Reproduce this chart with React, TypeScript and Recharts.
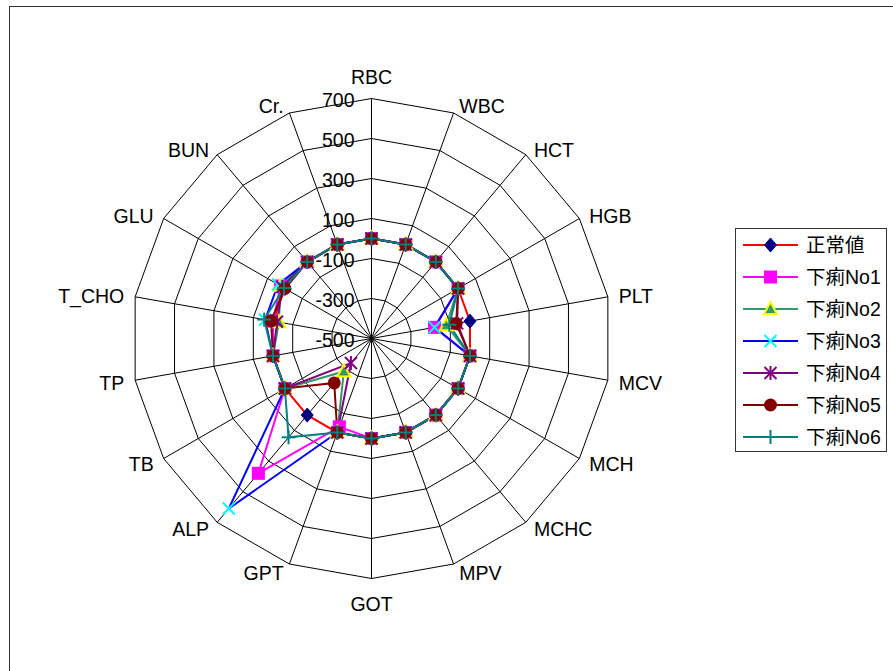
import React from "react";
import {
  RadarChart,
  Radar,
  PolarGrid,
  PolarAngleAxis,
  PolarRadiusAxis,
  Legend,
} from "recharts";

// test items around the radar, clockwise from the top
const categories = [
  "RBC", "WBC", "HCT", "HGB", "PLT", "MCV", "MCH", "MCHC", "MPV",
  "GOT", "GPT", "ALP", "TB", "TP", "T_CHO", "GLU", "BUN", "Cr.",
];

const seriesNames = ["正常値", "下痢No1", "下痢No2", "下痢No3", "下痢No4", "下痢No5", "下痢No6"];

const normalValues = [0, 0, 0, 0, 0, 0, 0, 0, 0, 0, 0, 0, 0, 0, 0, 0, 0, 0];
const no1Values = [0, 0, 0, 0, -180, 0, 0, 0, 0, 0, -30, 380, 0, 0, 0, 25, 0, 0];
const no2Values = [0, 0, 0, 0, -120, 0, 0, 0, 0, 0, 0, -285, 0, 0, -30, 25, 0, 0];
const no3Values = [0, 0, 0, 0, -180, 0, 0, 0, 0, 0, 0, 610, 0, 0, 40, 40, 0, 0];
const no4Values = [0, 0, 0, 0, -65, 0, 0, 0, 0, 0, 0, -340, 0, 0, -20, 15, 0, 0];
const no5Values = [0, 0, 0, 0, -70, 0, 0, 0, 0, 0, 0, -210, 0, 0, 10, 0, 0, 0];
const no6Values = [0, 0, 0, 0, -105, 0, 0, 0, 0, 0, 0, 145, 0, 0, 45, 5, 0, 0];

const radiusTicks = [-500, -300, -100, 100, 300, 500, 700];

const allValues = [normalValues, no1Values, no2Values, no3Values, no4Values, no5Values, no6Values];

const data = categories.map((name, i) => {
  const row: Record<string, any> = { name };
  seriesNames.forEach((s, k) => {
    row[s] = allValues[k][i];
  });
  return row;
});

// line colour, marker shape, marker colours
const styles = [
  { stroke: "#FF0000", shape: "diamond", fill: "#000080", edge: "#000080" },
  { stroke: "#FF00FF", shape: "square", fill: "#FF00FF", edge: "#FF00FF" },
  { stroke: "#339966", shape: "triangle", fill: "#339966", edge: "#FFFF00" },
  { stroke: "#0000FF", shape: "x", fill: "none", edge: "#00FFFF" },
  { stroke: "#800080", shape: "star", fill: "none", edge: "#800080" },
  { stroke: "#800000", shape: "circle", fill: "#800000", edge: "#800000" },
  { stroke: "#008080", shape: "plus", fill: "none", edge: "#008080" },
];

const CX = 371.5;
const CY = 338.5;
const FONT = "'Liberation Sans', Arial, 'Noto Sans CJK JP', sans-serif";

function marker(shape: string, x: number, y: number, fill: string, edge: string, key?: string) {
  switch (shape) {
    case "diamond":
      return (
        <polygon key={key} points={`${x},${y - 7} ${x + 6},${y} ${x},${y + 7} ${x - 6},${y}`} fill={fill} stroke={edge} />
      );
    case "square":
      return <rect key={key} x={x - 6.5} y={y - 6.5} width={13} height={13} fill={fill} />;
    case "triangle":
      return (
        <polygon key={key} points={`${x},${y - 7} ${x + 6.5},${y + 5} ${x - 6.5},${y + 5}`} fill={fill} stroke={edge} strokeWidth={2} />
      );
    case "x":
      return (
        <g key={key} stroke={edge} strokeWidth={2}>
          <line x1={x - 6} y1={y - 6} x2={x + 6} y2={y + 6} />
          <line x1={x - 6} y1={y + 6} x2={x + 6} y2={y - 6} />
        </g>
      );
    case "star":
      return (
        <g key={key} stroke={edge} strokeWidth={2}>
          <line x1={x - 6} y1={y - 6} x2={x + 6} y2={y + 6} />
          <line x1={x - 6} y1={y + 6} x2={x + 6} y2={y - 6} />
          <line x1={x} y1={y - 7} x2={x} y2={y + 7} />
        </g>
      );
    case "circle":
      return <circle key={key} cx={x} cy={y} r={6.5} fill={fill} />;
    default:
      return (
        <g key={key} stroke={edge} strokeWidth={2}>
          <line x1={x - 7} y1={y} x2={x + 7} y2={y} />
          <line x1={x} y1={y - 7} x2={x} y2={y + 7} />
        </g>
      );
  }
}

const AngleTick = (props: any) => {
  const { x, y, payload } = props;
  const dx = x - CX;
  const dy = y - CY;
  let tx = x;
  let ty = y + 1;
  let anchor: "start" | "middle" | "end" = "middle";
  let baseline: "central" | "auto" = "central";
  if (Math.abs(dx) < 1) {
    baseline = "auto";
    ty = dy < 0 ? y - 6.5 : y + 24;
  } else if (dx > 0) {
    anchor = "start";
    tx = x + 3;
  } else {
    anchor = "end";
    tx = x - 3;
  }
  return (
    <text x={tx} y={ty} textAnchor={anchor} dominantBaseline={baseline} fontSize={19.5} fill="#000" fontFamily={FONT}>
      {payload.value}
    </text>
  );
};

const RadiusTick = (props: any) => {
  const { x, y, payload } = props;
  return (
    <text x={x - 17} y={y + 1} textAnchor="end" dominantBaseline="central" fontSize={19.5} fill="#000" fontFamily={FONT}>
      {payload.value}
    </text>
  );
};

const LegendBox = () => (
  <div
    style={{
      width: 150,
      height: 222,
      border: "1px solid #333",
      background: "#fff",
      fontFamily: FONT,
      fontSize: 19.5,
      whiteSpace: "nowrap",
    }}
  >
    {seriesNames.map((name, i) => {
      const st = styles[i];
      return (
        <div key={name} style={{ display: "flex", alignItems: "center", height: 32 }}>
          <svg width={70} height={32} style={{ display: "block", flex: "none" }}>
            <line x1={7} y1={16} x2={62} y2={16} stroke={st.stroke} strokeWidth={2} />
            {marker(st.shape, 34.5, 16, st.fill, st.edge)}
          </svg>
          <span style={{ lineHeight: "32px", color: "#000" }}>{name}</span>
        </div>
      );
    })}
  </div>
);

export default function App() {
  return (
    <div
      style={{
        position: "absolute",
        left: 0,
        top: 0,
        width: 893,
        height: 671,
        overflow: "hidden",
        background: "#fff",
        fontFamily: FONT,
      }}
    >
      <div
        style={{
          position: "absolute",
          left: 9,
          top: 6,
          width: 1000,
          height: 1000,
          border: "1.5px solid #333",
        }}
      />
      <RadarChart
        width={893}
        height={671}
        data={data}
        cx={CX}
        cy={CY}
        outerRadius={240}
        margin={{ top: 0, right: 0, bottom: 0, left: 0 }}
        style={{ position: "absolute", left: 0, top: 0 }}
      >
        <PolarGrid gridType="polygon" stroke="#000" strokeWidth={1} />
        <PolarAngleAxis dataKey="name" tick={<AngleTick />} tickLine={false} axisLine={false} />
        <PolarRadiusAxis
          angle={90}
          domain={[-500, 700]}
          ticks={radiusTicks as any}
          tickCount={7}
          tick={<RadiusTick />}
          axisLine={false}
          tickLine={false}
        />
        {seriesNames.map((name, i) => {
          const st = styles[i];
          return (
            <Radar
              key={name}
              name={name}
              dataKey={name}
              stroke={st.stroke}
              strokeWidth={2}
              fill="none"
              fillOpacity={0}
              isAnimationActive={false}
              dot={(p: any) => marker(st.shape, p.cx, p.cy, st.fill, st.edge, `${name}-${p.index}`)}
              activeDot={false}
            />
          );
        })}
        <Legend
          layout="vertical"
          align="right"
          verticalAlign="top"
          wrapperStyle={{ position: "absolute", left: 735, top: 228, width: "auto" }}
          content={() => <LegendBox />}
        />
      </RadarChart>
    </div>
  );
}
